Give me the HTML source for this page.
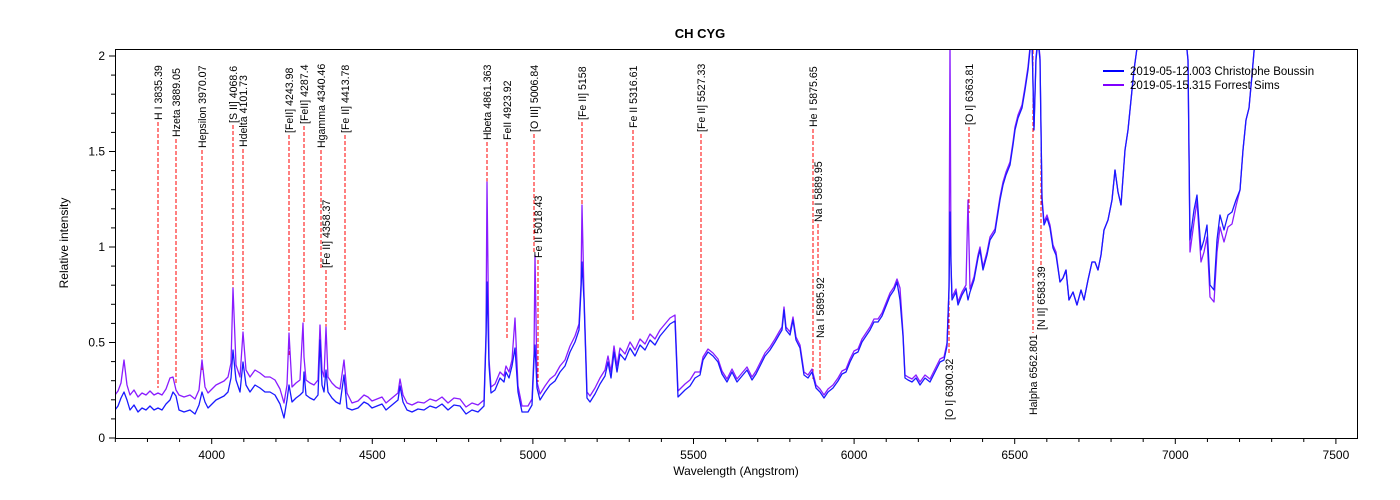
<!DOCTYPE html>
<html><head><meta charset="utf-8"><style>
html,body{margin:0;padding:0;background:#fff;}
svg{display:block;font-family:"Liberation Sans",sans-serif;}
</style></head><body>
<svg id="s" width="1400" height="500" viewBox="0 0 1400 500" xmlns="http://www.w3.org/2000/svg">
<defs><clipPath id="c"><rect x="115" y="49" width="1242" height="389"/></clipPath></defs>
<rect width="1400" height="500" fill="#fff"/>
<text x="700" y="38" text-anchor="middle" font-size="13" font-weight="bold">CH CYG</text>
<g id="lines" stroke="#ff0000" stroke-width="1" stroke-dasharray="4,2" fill="none"></g>
<g clip-path="url(#c)">
<polyline id="pu" fill="none" stroke="#8a1cff" stroke-width="1.3" stroke-linejoin="round"/>
<polyline id="bl" fill="none" stroke="#1a1aff" stroke-width="1.3" stroke-linejoin="round"/>
</g>
<g id="labels" font-size="10.6" fill="#000"></g>
<rect x="115.5" y="49.5" width="1242" height="389" fill="none" stroke="#000" stroke-width="1"/>
<g id="ax" stroke="#000" stroke-width="1" font-size="12"></g>
<text transform="translate(68,243) rotate(-90)" text-anchor="middle" font-size="12">Relative intensity</text>
<text x="736" y="475" text-anchor="middle" font-size="12">Wavelength (Angstrom)</text>
<line x1="1103" y1="71" x2="1124" y2="71" stroke="#0000ff" stroke-width="2"/>
<line x1="1103" y1="85" x2="1124" y2="85" stroke="#7f00ff" stroke-width="2"/>
<text x="1130" y="75" font-size="11.5">2019-05-12.003  Christophe Boussin</text>
<text x="1130" y="89" font-size="11.5">2019-05-15.315  Forrest Sims</text>
</svg>
<script>
function X(l){return 211.7+(l-4000)*0.3212;}
function Y(v){return 438-v*191;}
var ax=document.getElementById("ax"),h="";
for(var l=3700;l<=7560;l+=100){var x=X(l);var major=l%500==0;h+='<line x1="'+x+'" y1="438" x2="'+x+'" y2="'+(major?444:442)+'"/>';if(major)h+='<text x="'+x+'" y="459" text-anchor="middle" stroke="none">'+l+'</text>';}
for(var i=0;i<=20;i++){var v=i/10,y=Y(v);var major=i%5==0;h+='<line x1="'+(major?109:111)+'" y1="'+y+'" x2="115" y2="'+y+'"/>';if(major)h+='<text x="105" y="'+(y+4)+'" text-anchor="end" stroke="none">'+(v==0?"0":v==1?"1":v==2?"2":v)+'</text>';}
ax.innerHTML=h;
var L=[[158,"H I 3835.39",63,120,122,388],[176,"Hzeta 3889.05",63,137,139,385],[202,"Hepsilon 3970.07",63,148,150,372],
[233,"[S II] 4068.6",63,123,125,290],[243,"Hdelta 4101.73",63,147,149,330],[289,"[FeII] 4243.98",63,133,135,355],
[304,"[FeII] 4287.4",63,124,126,322],[321,"Hgamma 4340.46",63,148,150,270],[345,"[Fe II] 4413.78",63,133,135,330],
[326,"[Fe II] 4358.37",228,268,270,330],[487,"Hbeta 4861.363",63,140,142,182],[507,"FeII 4923.92",63,140,142,340],
[534,"[O III] 5006.84",63,132,134,252],[538,"Fe II 5018.43",195,258,260,382],[582,"[Fe II] 5158",63,120,122,205],
[633,"Fe II 5316.61",63,128,130,322],[701,"[Fe II] 5527.33",63,132,134,342],[813,"He I 5875.65",63,127,129,380],
[818,"Na I 5889.95",162,222,224,277],[820,"Na I 5895.92",277,338,340,382],[949,"[O I] 6300.32",357,420,247,355],
[969,"[O I] 6363.81",65,125,127,213],[1033,"Halpha 6562.801",335,415,50,333],[1041,"[N II] 6583.39",267,330,123,265]];
var lg=document.getElementById("lines"),lb=document.getElementById("labels"),a="",b="";
L.forEach(function(d){a+='<line x1="'+d[0]+'" y1="'+d[4]+'" x2="'+d[0]+'" y2="'+d[5]+'"/>';
b+='<text transform="translate('+(d[0]+4)+','+d[3]+') rotate(-90)">'+d[1]+'</text>';});
lg.innerHTML=a;lb.innerHTML=b;
var B=[115,410,118,406,121,398,124,392,127,400,130,410,134,405,138,412,142,408,146,410,150,406,154,410,158,408,162,410,166,404,170,400,173,392,176,396,179,410,184,412,190,410,195,414,199,405,202,392,205,402,208,408,212,404,216,400,220,398,224,396,228,392,231,378,233,350,236,380,240,392,243,362,246,385,250,392,255,385,260,388,265,392,270,392,275,395,280,404,284,418,287,400,289,385,292,402,296,398,300,395,303,392,304,372,306,395,310,398,314,400,318,395,320,340,322,385,324,392,326,370,328,392,332,398,336,402,340,404,344,375,347,408,352,410,358,408,364,402,368,404,372,408,377,406,382,404,386,410,392,405,398,400,400,386,403,402,407,410,412,412,418,409,424,410,430,406,436,408,442,404,448,410,454,405,460,406,466,414,472,410,478,412,484,406,486,340,487,282,489,365,491,393,495,390,500,378,504,382,506,372,509,378,512,366,515,348,518,392,522,412,528,412,532,405,534,360,535,345,537,388,540,400,545,392,550,385,555,381,560,372,565,366,570,352,575,342,579,330,581,290,582,262,584,300,587,398,590,402,595,394,600,384,605,376,608,362,611,378,614,352,617,372,620,354,625,360,630,348,635,356,640,345,645,350,650,340,655,345,660,336,665,330,670,324,675,321,678,397,685,390,690,386,695,378,700,375,703,360,708,352,713,356,718,362,722,374,727,382,732,372,737,382,742,376,747,370,752,380,756,374,762,362,765,356,770,350,775,342,779,335,782,330,784,310,786,330,790,335,793,320,796,340,800,348,804,375,808,378,812,372,816,388,820,392,824,398,828,392,833,388,838,381,842,374,846,372,850,362,854,354,858,352,862,342,866,336,870,330,874,322,878,322,882,316,886,306,890,296,894,290,897,282,900,300,903,336,905,378,908,380,912,382,916,378,920,385,925,378,930,382,935,372,940,362,944,360,947,346,949,290,950,212,951,265,952,300,956,292,958,305,962,295,966,288,968,300,970,292,974,280,978,258,980,250,983,270,987,255,990,240,995,232,1000,200,1003,185,1006,175,1010,165,1013,145,1015,130,1018,118,1022,108,1025,90,1028,70,1030,50,1032,40,1034,130,1036,60,1038,40,1040,60,1042,200,1044,225,1047,218,1050,228,1053,248,1056,255,1060,282,1063,278,1066,270,1069,300,1073,292,1077,305,1081,290,1084,300,1088,280,1092,262,1095,262,1098,270,1101,255,1104,230,1108,220,1112,200,1115,170,1118,192,1121,205,1125,150,1128,130,1131,100,1134,70,1137,48,1140,40,1186,40,1188,60,1190,240,1194,210,1197,195,1201,250,1204,240,1207,225,1210,285,1214,290,1217,240,1220,215,1224,230,1228,215,1232,212,1236,200,1240,190,1243,150,1246,120,1249,108,1252,75,1255,40];
var sp={124:360,233:288,243:332,289:333,303:323,321:268,326:327,345:327,202:360,487:182,535:255,582:205,515:318,950:40,968:200,230:330,170:378,176:390,900:288};
function off(x){if(x<480)return x<350?-15:-7;if(x<700)return -6;if(x<1060)return -3;if(x>1150&&x<1240)return 12;return 0;}
var bp="",pp="";
for(var i=0;i<B.length;i+=2){var x=B[i],y=B[i+1];bp+=x+","+y+" ";var yy=(sp[x]!==undefined)?sp[x]:Math.min(y+off(x),y);if(x>1150&&x<1240&&y>150)yy=y+off(x)*(y>200?1:0.5);pp+=x+","+yy+" ";}
document.getElementById("bl").setAttribute("points",bp);
document.getElementById("pu").setAttribute("points",pp);
</script>
</body></html>
